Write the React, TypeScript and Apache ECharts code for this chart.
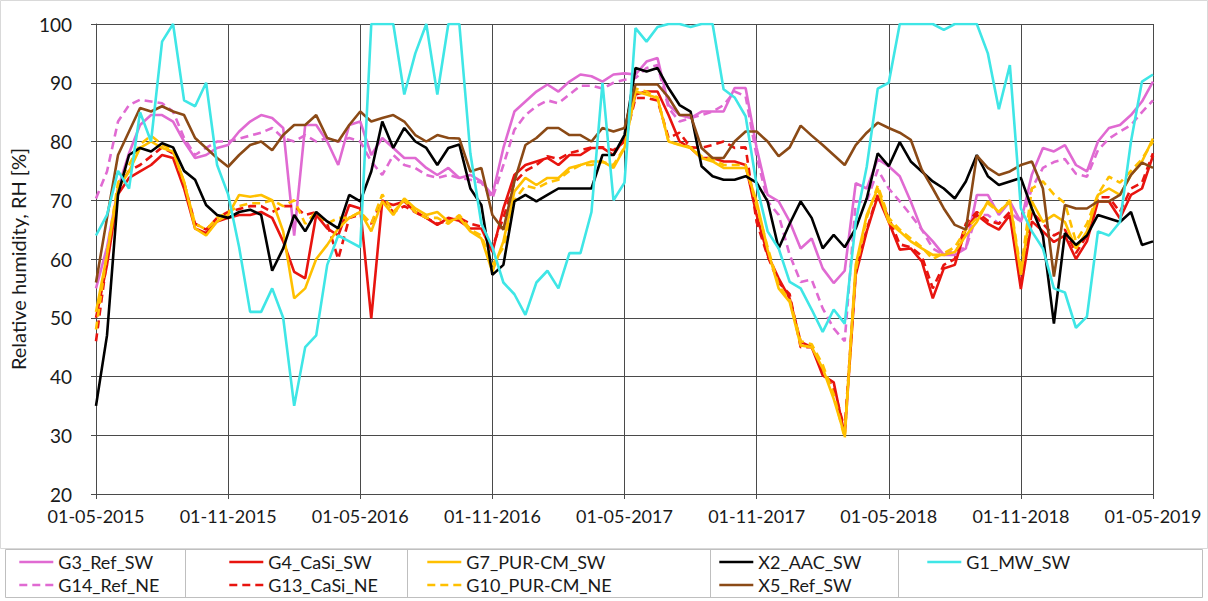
import React, { useEffect, useRef } from "react";
import * as echarts from "echarts";

// Sampling grid: the 1st and 16th of each month, 01-05-2015 .. 01-05-2019
const pad = (n: number) => (n < 10 ? "0" + n : String(n));
function buildDates(): string[] {
  const out: string[] = [];
  for (let y = 2015; y <= 2019; y++) {
    for (let m = 1; m <= 12; m++) {
      for (const d of [1, 16]) {
        if (y === 2015 && m < 5) continue;
        if (y === 2019 && (m > 5 || (m === 5 && d === 16))) continue;
        out.push(`${pad(d)}-${pad(m)}-${y}`);
      }
    }
  }
  return out;
}
const DATES = buildDates();

const TICK_LABELS = [
  "01-05-2015", "01-11-2015", "01-05-2016", "01-11-2016", "01-05-2017",
  "01-11-2017", "01-05-2018", "01-11-2018", "01-05-2019",
];

// Relative humidity [%]
const G3_REF_SW = [
  55, 62, 72, 78, 82.8, 84.5, 84.5, 83.4, 80, 77.2, 77.7, 78.9, 79.4, 81.7, 83.4, 84.5, 84, 82.3, 64, 82.8, 82.8, 80, 76, 82.8, 83.4,
  77.7, 80.6, 78.9, 77.2, 77.2, 75.5, 74.3, 75.5, 73.8, 74.3, 73.2, 70.9, 78.9, 85.1, 86.8, 88.5, 89.7, 88.5, 90.2, 91.4, 91.1, 90.2, 91.4, 91.6,
  91.4, 93.6, 94.2, 86.2, 84.5, 84, 85.1, 85.1, 85.1, 89.1, 89.1, 78.9, 70.9, 69.8, 66.4, 61.8, 63.5, 58.4, 55.9, 58, 72.9, 72, 77, 75.8,
  74.1, 69.8, 65, 63, 60.7, 60.7, 61.8, 70.9, 70.9, 67.5, 69.8, 66.3, 74.4, 78.9, 78.3, 79.4, 76, 74.9, 80, 82.3, 82.8, 84.5, 86.8, 90.2,
];
const G14_REF_NE = [
  70.3, 74.9, 83.4, 86.2, 87.1, 86.8, 86.5, 85.1, 80.6, 77.7, 78.9, 80, 80, 80.5, 81, 81.5, 82.3, 80.6, 80, 81.1, 80, 80.6, 80, 80.6, 80,
  76.6, 74.3, 77.7, 76, 75.5, 74.3, 73.8, 74.3, 73.8, 73.5, 73, 70.3, 76, 82, 84.5, 86, 87, 86.5, 88, 89.5, 89.5, 89, 90, 90.5,
  90.8, 92.5, 93, 85.7, 83.4, 84, 84.5, 85.1, 86.2, 88.5, 87.7, 77.5, 69.8, 67.5, 60.7, 56.1, 56.5, 51.6, 48.2, 46, 69.8, 69.8, 75.2, 72,
  69.8, 67.5, 65, 61.8, 60.7, 61.8, 61.8, 67.5, 67.5, 66, 68, 66.3, 72, 75.5, 76.5, 77, 74.5, 74, 78.5, 80.5, 81.7, 82.8, 85, 87,
];
const G4_CASI_SW = [
  50, 59, 71, 73.8, 74.9, 76, 77.7, 77.2, 72, 65.2, 64.4, 66.4, 67, 67.5, 67.5, 68, 67, 63, 57.8, 56.7, 67.5, 65.2, 64, 69.2, 68.6,
  49.9, 69.8, 69.2, 69.8, 68, 67, 65.8, 67, 66.5, 65.2, 65.2, 61.2, 68.6, 74.3, 76, 76.6, 77.2, 76, 77.7, 77.7, 78.9, 78.9, 77.7, 80.6,
  88, 88.5, 88.5, 84.5, 80, 78.9, 77.2, 77.2, 76.6, 76.6, 76, 67.5, 60.7, 56.7, 53.3, 45.9, 45, 40.2, 39, 30, 57.3, 64.7, 70.7, 66.3,
  61.6, 61.8, 59.6, 53.3, 58.4, 59, 65.2, 67.5, 66, 65, 67.5, 54.9, 66.4, 64.7, 62.9, 64, 60, 63, 69.8, 69.8, 66.9, 70.9, 72, 77.6,
];
const G13_CASI_NE = [
  46, 60, 72, 75, 76, 77.5, 79, 78, 73, 66, 65, 67, 68, 68.5, 69, 69, 68, 69, 69, 67.5, 68, 66, 60, 67, 67.5,
  66, 70, 68, 69, 68, 67, 66, 66.5, 67, 66, 65.5, 62, 67, 73, 75, 76, 77.5, 77, 78, 78.5, 79, 79, 78.5, 80,
  87.4, 87.4, 87, 80.6, 81.5, 79, 78.9, 79.4, 80, 78.9, 79, 66.3, 60.5, 56, 54, 45, 45, 41, 38, 31, 58, 65, 71, 67,
  62.5, 62, 60.5, 55, 59, 60, 66, 68, 66.5, 66, 68, 56, 68, 66, 64, 65, 61, 64, 70.5, 70.5, 68, 72, 73, 78,
];
const G7_PUR_CM_SW = [
  51, 60.7, 72, 74.9, 78.9, 80, 78.9, 78.3, 73.2, 65.2, 64, 66.4, 67.5, 70.9, 70.6, 70.9, 70, 64.7, 53.3, 55, 60, 62.4, 65.2, 67, 68,
  64.7, 69.8, 67.5, 70.3, 68.6, 67.5, 68, 66.4, 67, 64.7, 63.5, 57.8, 63, 71.5, 73.8, 72.6, 73.8, 73.8, 75.5, 76, 76.6, 76.6, 75.5, 78.9,
  88.5, 88, 87.4, 80, 79.4, 78.9, 77.2, 76.6, 75.5, 75.5, 75.5, 69.8, 61.6, 55, 52.7, 45.3, 45, 41.4, 36.2, 30, 59, 67.5, 72, 66.3,
  64.7, 63, 61.8, 60.7, 60.7, 61.2, 64, 66.3, 69.8, 68, 69.8, 57.3, 69.8, 66.3, 67.5, 66.3, 61.8, 64.7, 70.9, 72, 70.9, 74.3, 76.6, 80.5,
];
const G10_PUR_CM_NE = [
  48, 61, 73, 76, 79.5, 81, 79.5, 78.5, 73, 66, 65, 67, 68, 69, 69.5, 69.5, 70, 69, 70, 66, 68, 66, 67, 67, 68,
  66, 71, 68, 70, 68, 67, 67, 66, 67.5, 65, 64, 59, 62, 70, 72.5, 72, 73, 73.5, 75, 76, 76, 76.5, 76, 79,
  89, 88.5, 87.5, 80, 79.5, 79, 77.5, 77, 76, 76, 76, 69, 62, 55.5, 53, 46, 45.5, 42, 37, 29.5, 58, 67, 72.5, 67,
  65, 63.5, 62, 60, 61, 62, 65, 67, 69.5, 68, 70, 58, 72, 73.2, 71, 69.5, 63, 66, 71, 74, 73, 75, 77, 80,
];
const X2_AAC_SW = [
  35, 47, 71, 77.7, 78.9, 78.3, 79.7, 79, 75, 73.5, 69.2, 67.5, 67, 68, 68.4, 67.5, 58, 61.8, 67.5, 64.7, 68, 66.4, 65.2, 70.9, 69.8,
  74.9, 83.4, 78.9, 82.3, 80, 78.9, 76, 78.9, 79.5, 72, 69.2, 57.3, 59, 69.8, 70.9, 69.8, 70.9, 72, 72, 72, 72, 77.7, 77.7, 81.1,
  92.5, 91.9, 92.5, 89.1, 86.2, 85.1, 75.8, 74.1, 73.5, 73.5, 74.1, 73, 69.8, 61.8, 66, 69.8, 67, 61.8, 64.1, 62, 65.2, 70.3, 78, 75.8,
  79.9, 76.6, 74.9, 73.2, 72, 70.3, 73.2, 77.7, 74.1, 72.6, 73.2, 73.8, 68.6, 64, 49, 64.4, 62.4, 64, 67.5, 66.9, 66.3, 68, 62.4, 63,
];
const X5_REF_SW = [
  56, 67, 77.7, 81.7, 85.7, 85.1, 86, 85.1, 84.5, 80.6, 78.9, 77.2, 75.7, 77.7, 79.4, 80, 78.5, 81.1, 82.8, 82.8, 84.5, 80.6, 80, 82.8, 85.1,
  83.4, 84, 84.5, 83.4, 81.1, 80, 81.1, 80.6, 80.5, 74.9, 75.5, 67.5, 65, 73.2, 79.4, 80.6, 82.3, 82.3, 81.1, 81.1, 80, 82.3, 81.7, 82.3,
  89.7, 89.7, 89.7, 87.5, 84.5, 84.5, 78.9, 77.2, 77.2, 80, 81.7, 81.7, 80, 77.5, 79, 82.7, 81, 79.4, 77.7, 76, 79.4, 81.5, 83.2, 82.3,
  81.5, 80.3, 75.2, 72, 68.6, 65.8, 65, 77.6, 75.5, 74.3, 74.9, 76, 76.6, 72, 57, 69.2, 68.6, 68.6, 69.8, 69.8, 70.9, 74.3, 76.4, 75.5,
];
const G1_MW_SW = [
  64, 67.5, 75, 72, 85, 80, 97, 100, 87, 86, 90, 76, 71, 62, 51, 51, 55, 50, 35, 45, 47, 59, 64, 63, 62,
  100, 100, 100, 88, 95, 100, 88, 100, 100, 78, 66, 62, 56, 54, 50.5, 56, 58, 55, 61, 61, 68, 90, 70, 73,
  99.3, 97, 99.5, 100, 100, 99.5, 100, 100, 88.9, 87.5, 84.3, 72.6, 64.7, 61.8, 56.1, 55, 51.4, 47.6, 51.4, 49, 66.3, 75.7, 89, 90,
  100, 100, 100, 100, 99, 100, 100, 100, 95, 85.5, 93, 68.6, 64.7, 61.8, 55, 54.3, 48.3, 50.2, 64.7, 64, 66.3, 80, 90.2, 91.4,
];

const MAGENTA = "#E06AD2";
const RED = "#E8140F";
const GOLD = "#FFC000";
const BLACK = "#000000";
const BROWN = "#8B4A16";
const CYAN = "#3FE6E6";

const SERIES = [
  { name: "G3_Ref_SW", data: G3_REF_SW, color: MAGENTA, dashed: false },
  { name: "G14_Ref_NE", data: G14_REF_NE, color: MAGENTA, dashed: true },
  { name: "G4_CaSi_SW", data: G4_CASI_SW, color: RED, dashed: false },
  { name: "G13_CaSi_NE", data: G13_CASI_NE, color: RED, dashed: true },
  { name: "G7_PUR-CM_SW", data: G7_PUR_CM_SW, color: GOLD, dashed: false },
  { name: "G10_PUR-CM_NE", data: G10_PUR_CM_NE, color: GOLD, dashed: true },
  { name: "X2_AAC_SW", data: X2_AAC_SW, color: BLACK, dashed: false },
  { name: "X5_Ref_SW", data: X5_REF_SW, color: BROWN, dashed: false },
  { name: "G1_MW_SW", data: G1_MW_SW, color: CYAN, dashed: false },
];

const FONT = "Lato, 'Open Sans', sans-serif";
const GRID_COLOR = "#4a4a4a";
const TEXT_COLOR = "#1a1a1a";
const isTick = (_i: number, v: string) => TICK_LABELS.indexOf(v) >= 0;

// Boxed legend below the plot: one component per column
const LEGEND_COLUMNS = [
  { left: 18, items: ["G3_Ref_SW", "G14_Ref_NE"] },
  { left: 228, items: ["G4_CaSi_SW", "G13_CaSi_NE"] },
  { left: 426, items: ["G7_PUR-CM_SW", "G10_PUR-CM_NE"] },
  { left: 718, items: ["X2_AAC_SW", "X5_Ref_SW"] },
  { left: 926, items: ["G1_MW_SW"] },
];
const LEGEND_SEPARATORS = [185, 407, 710, 898];

export default function App() {
  const ref = useRef<HTMLDivElement>(null);

  useEffect(() => {
    if (!ref.current) return;
    const chart = echarts.init(ref.current, undefined, { renderer: "svg" });

    const option: any = {
      animation: false,
      backgroundColor: "#ffffff",
      textStyle: { fontFamily: FONT },
      grid: { left: 96, right: 55, top: 24, bottom: 107, containLabel: false },
      legend: LEGEND_COLUMNS.map((c) => ({
        data: c.items,
        left: c.left,
        top: 552,
        orient: "vertical",
        itemWidth: 34,
        itemHeight: 14,
        itemGap: 3,
        padding: 0,
        selectedMode: false,
        itemStyle: { opacity: 0 },
        lineStyle: { width: 2.6 },
        textStyle: { fontFamily: FONT, fontSize: 18, color: TEXT_COLOR, lineHeight: 20 },
      })),
      xAxis: {
        type: "category",
        data: DATES,
        boundaryGap: false,
        axisLine: { show: true, lineStyle: { color: GRID_COLOR, width: 1 } },
        axisTick: { show: true, interval: isTick, length: 5, lineStyle: { color: GRID_COLOR } },
        splitLine: { show: true, interval: isTick, lineStyle: { color: GRID_COLOR, width: 1 } },
        axisLabel: { interval: isTick, margin: 13, fontFamily: FONT, fontSize: 18, color: TEXT_COLOR },
      },
      yAxis: {
        type: "value",
        min: 20,
        max: 100,
        interval: 10,
        name: "Relative humidity, RH [%]",
        nameLocation: "middle",
        nameRotate: 90,
        nameGap: 63,
        nameTextStyle: { fontFamily: FONT, fontSize: 20, color: TEXT_COLOR },
        axisLine: { show: true, lineStyle: { color: GRID_COLOR, width: 1 } },
        axisTick: { show: true, length: 5, lineStyle: { color: GRID_COLOR } },
        splitLine: { show: true, lineStyle: { color: GRID_COLOR, width: 1 } },
        axisLabel: { margin: 24, fontFamily: FONT, fontSize: 19, color: TEXT_COLOR },
      },
      series: SERIES.map((s) => ({
        name: s.name,
        type: "line",
        data: s.data,
        symbol: "none",
        silent: true,
        color: s.color,
        itemStyle: { color: s.color },
        lineStyle: { color: s.color, width: 2.6, type: s.dashed ? [8, 5] : "solid" },
      })),
      graphic: [
        {
          type: "rect",
          shape: { x: 0.5, y: 0.5, width: 1207, height: 548 },
          style: { fill: "none", stroke: "#d9d9d9", lineWidth: 1 },
          silent: true,
        },
        {
          type: "rect",
          shape: { x: 5.5, y: 549.5, width: 1197, height: 48 },
          style: { fill: "none", stroke: "#bfbfbf", lineWidth: 1 },
          silent: true,
        },
        ...LEGEND_SEPARATORS.map((x) => ({
          type: "line",
          shape: { x1: x + 0.5, y1: 549.5, x2: x + 0.5, y2: 597.5 },
          style: { stroke: "#bfbfbf", lineWidth: 1 },
          silent: true,
        })),
      ],
    };

    chart.setOption(option);
    return () => chart.dispose();
  }, []);

  return (
    <div
      ref={ref}
      style={{ position: "fixed", left: 0, top: 0, width: 1208, height: 601, background: "#fff" }}
    />
  );
}
